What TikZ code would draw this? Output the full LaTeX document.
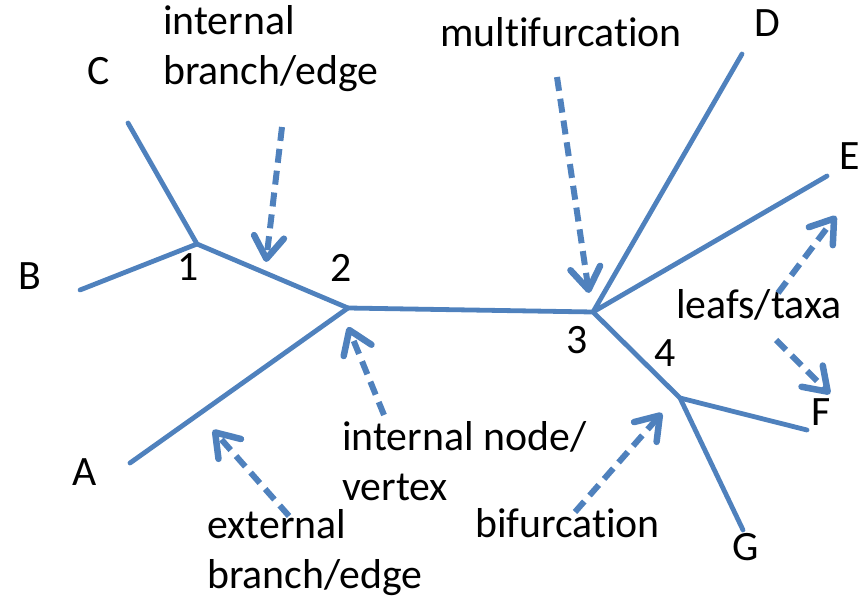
\documentclass[tikz,border=0pt]{standalone}
\usepackage{fontspec}
\setmainfont{Carlito}[Ligatures=NoCommon]
\usetikzlibrary{arrows.meta}
\definecolor{branchblue}{HTML}{4F81BD}
\tikzset{
  branch/.style={draw=branchblue, line width=4.8pt, line cap=round, line join=round},
  pointer/.style={draw=branchblue, line width=6pt, dash pattern=on 14pt off 8pt,
    -{Straight Barb[length=22pt,width=30pt,line width=6.5pt,round]}},
  lbl/.style={anchor=base west, inner sep=0pt, align=left,
    font=\fontsize{41.8}{50}\selectfont},
}
\begin{document}
\begin{tikzpicture}[x=1pt,y=-1pt]
\useasboundingbox (0,0) rectangle (866,601);
% tree vertices
\coordinate (n1) at (197,244);
\coordinate (n2) at (348,308);
\coordinate (n3) at (593,312);
\coordinate (n4) at (680,398);
% leaves
\coordinate (lA) at (130,463);
\coordinate (lB) at (80,290);
\coordinate (lC) at (128,123);
\coordinate (lD) at (742,54);
\coordinate (lE) at (827,176);
\coordinate (lF) at (807,430);
\coordinate (lG) at (743,530);
% branches
\draw[branch] (lC) -- (n1) -- (n2) -- (n3) -- (n4) -- (lF);
\draw[branch] (lB) -- (n1);
\draw[branch] (lA) -- (n2);
\draw[branch] (lD) -- (n3) -- (lE);
\draw[branch] (n4) -- (lG);
% vertex and leaf labels
\node[lbl] (t1) at (177,280) {1};
\node[lbl] (t2) at (330,281) {2};
\node[lbl] (t3) at (566,353) {3};
\node[lbl] (t4) at (654,366) {4};
\node[lbl] (tA) at (72,485) {A};
\node[lbl] (tB) at (18,290) {B};
\node[lbl] (tC) at (87,85) {C};
\node[lbl] (tD) at (754,37) {D};
\node[lbl] (tE) at (839,170) {E};
\node[lbl] (tF) at (811,425) {F};
\node[lbl] (tG) at (732,560) {G};
% annotations (base anchor sits on the last line)
\node[lbl] (ibranch) at (163,85) {internal\\branch/edge};
\node[lbl] (multi) at (440,47) {multifurcation};
\node[lbl] (leafs) at (676,318) {leafs/taxa};
\node[lbl] (inode) at (342,500) {internal node/\\vertex};
\node[lbl] (ebranch) at (207,588) {external\\branch/edge};
\node[lbl] (bif) at (475,537) {bifurcation};
% annotation pointers
\coordinate (p1s) at (282,127); \coordinate (p1e) at (266,262);
\coordinate (p2s) at (557,77);  \coordinate (p2e) at (589,293);
\coordinate (p3s) at (778,293); \coordinate (p3e) at (836,216);
\coordinate (p4s) at (776,340); \coordinate (p4e) at (830,394);
\coordinate (p5s) at (384,415); \coordinate (p5e) at (348,327);
\coordinate (p6s) at (289,516); \coordinate (p6e) at (213,430);
\coordinate (p7s) at (575,512); \coordinate (p7e) at (662,413);
\draw[pointer] (p1s) -- (p1e);
\draw[pointer] (p2s) -- (p2e);
\draw[pointer] (p3s) -- (p3e);
\draw[pointer] (p4s) -- (p4e);
\draw[pointer] (p5s) -- (p5e);
\draw[pointer] (p6s) -- (p6e);
\draw[pointer] (p7s) -- (p7e);
\end{tikzpicture}
\end{document}
